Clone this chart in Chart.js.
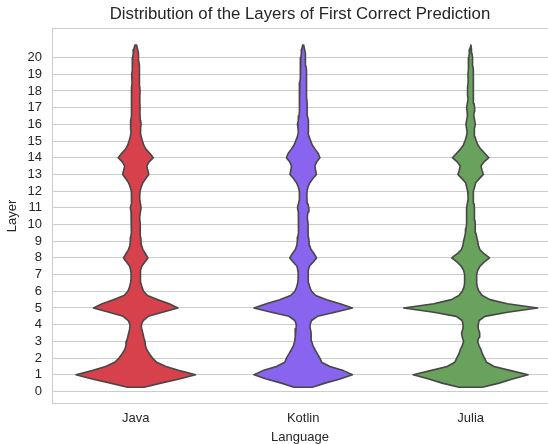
<!DOCTYPE html>
<html>
<head>
<meta charset="utf-8">
<title>Distribution of the Layers of First Correct Prediction</title>
<script src="https://cdn.jsdelivr.net/npm/chart.js@4/dist/chart.umd.min.js"></script>
<style>
  html, body { margin: 0; padding: 0; background: #fff; }
  #wrap { width: 548px; height: 444px; }
</style>
</head>
<body>
<div id="wrap"><canvas id="violins" width="548" height="444"></canvas></div>
<script>
// categories on the x axis
const languages = ['Java', 'Kotlin', 'Julia']
const layerTicks = [0, 1, 2, 3, 4, 5, 6, 7, 8, 9, 10, 11, 12, 13, 14, 15, 16, 17, 18, 19, 20]

const layerGrid = [
	0.25, 0.5, 0.75, 1, 1.25, 1.5, 1.75, 2, 2.25, 2.5, 2.75, 3,
	3.25, 3.5, 3.75, 4, 4.25, 4.5, 4.75, 5, 5.25, 5.5, 5.75, 6,
	6.25, 6.5, 6.75, 7, 7.25, 7.5, 7.75, 8, 8.25, 8.5, 8.75, 9,
	9.25, 9.5, 9.75, 10, 10.25, 10.5, 10.75, 11, 11.25, 11.5, 11.75, 12,
	12.25, 12.5, 12.75, 13, 13.25, 13.5, 13.75, 14, 14.25, 14.5, 14.75, 15,
	15.25, 15.5, 15.75, 16, 16.25, 16.5, 16.75, 17, 17.25, 17.5, 17.75, 18,
	18.25, 18.5, 18.75, 19, 19.25, 19.5, 19.75, 20, 20.25, 20.5, 20.75
]

// half-width of each violin (in category units) at every layerGrid value
const javaWidth = [
	0.05, 0.15, 0.26, 0.357, 0.26, 0.18, 0.125, 0.10, 0.082, 0.066, 0.058, 0.055,
	0.048, 0.042, 0.036, 0.034, 0.045, 0.075, 0.16, 0.252, 0.2, 0.133, 0.07, 0.047,
	0.037, 0.031, 0.028, 0.027, 0.03, 0.036, 0.055, 0.073, 0.058, 0.043, 0.035, 0.032,
	0.03, 0.028, 0.027, 0.026, 0.025, 0.024, 0.028, 0.032, 0.028, 0.024, 0.024, 0.026,
	0.033, 0.043, 0.06, 0.078, 0.072, 0.066, 0.08, 0.105, 0.085, 0.062, 0.048, 0.04,
	0.033, 0.028, 0.029, 0.032, 0.029, 0.026, 0.025, 0.026, 0.025, 0.024, 0.025, 0.026,
	0.024, 0.022, 0.023, 0.024, 0.022, 0.02, 0.019, 0.018, 0.015, 0.011, 0.005
]
const kotlinWidth = [
	0.055, 0.13, 0.22, 0.294, 0.24, 0.16, 0.11, 0.10, 0.085, 0.071, 0.058, 0.051,
	0.048, 0.047, 0.043, 0.041, 0.05, 0.085, 0.19, 0.294, 0.22, 0.14, 0.075, 0.05,
	0.039, 0.033, 0.03, 0.029, 0.032, 0.037, 0.06, 0.08, 0.065, 0.047, 0.038, 0.035,
	0.032, 0.03, 0.029, 0.029, 0.027, 0.025, 0.029, 0.034, 0.028, 0.023, 0.022, 0.023,
	0.029, 0.04, 0.058, 0.079, 0.074, 0.07, 0.08, 0.1, 0.09, 0.072, 0.055, 0.045,
	0.035, 0.029, 0.031, 0.034, 0.029, 0.025, 0.024, 0.024, 0.023, 0.022, 0.022, 0.022,
	0.021, 0.02, 0.019, 0.018, 0.017, 0.016, 0.015, 0.014, 0.011, 0.008, 0.003
]
const juliaWidth = [
	0.07, 0.17, 0.25, 0.343, 0.24, 0.14, 0.095, 0.083, 0.07, 0.062, 0.05, 0.042,
	0.05, 0.054, 0.046, 0.045, 0.051, 0.085, 0.22, 0.40, 0.22, 0.115, 0.07, 0.05,
	0.04, 0.036, 0.036, 0.036, 0.042, 0.056, 0.08, 0.113, 0.08, 0.055, 0.046, 0.042,
	0.036, 0.031, 0.028, 0.027, 0.026, 0.022, 0.022, 0.024, 0.02, 0.015, 0.016, 0.018,
	0.024, 0.03, 0.052, 0.076, 0.068, 0.062, 0.08, 0.109, 0.085, 0.062, 0.044, 0.034,
	0.026, 0.021, 0.024, 0.028, 0.024, 0.019, 0.021, 0.024, 0.02, 0.015, 0.017, 0.02,
	0.018, 0.015, 0.015, 0.016, 0.015, 0.013, 0.012, 0.011, 0.008, 0.005, 0.002
]

const colors = ['#d7414b', '#8964ee', '#68a25c']
const font = "'Liberation Sans', Arial, sans-serif"
const ink = '#262626'
const rule = '#cccccc'

// closed outline: right side going up, left side coming down
function outline(center, half) {
	const right = layerGrid.map((y, i) => ({ x: center + half[i], y }))
	const left = layerGrid.map((y, i) => ({ x: center - half[i], y })).reverse()
	return right.concat(left, [right[0]])
}

// fill the inside of each outline before Chart.js strokes it
const fillShape = {
	id: 'fillShape',
	beforeDatasetDraw(chart, args) {
		const pts = args.meta.data
		const ctx = chart.ctx
		ctx.save()
		ctx.beginPath()
		pts.forEach((p, i) => i ? ctx.lineTo(p.x, p.y) : ctx.moveTo(p.x, p.y))
		ctx.closePath()
		ctx.fillStyle = chart.data.datasets[args.index].backgroundColor
		ctx.fill()
		ctx.restore()
	}
}

const widths = [javaWidth, kotlinWidth, juliaWidth]

new Chart(document.getElementById('violins'), {
	type: 'scatter',
	data: {
		datasets: languages.map((name, i) => ({
			label: name,
			data: outline(i, widths[i]),
			showLine: true,
			backgroundColor: colors[i],
			borderColor: '#474747',
			borderWidth: 1.6,
			borderJoinStyle: 'round',
			pointRadius: 0,
			tension: 0
		}))
	},
	plugins: [fillShape],
	options: {
		responsive: false,
		animation: false,
		devicePixelRatio: 1,
		events: [],
		layout: { padding: 0 },
		plugins: {
			legend: { display: false },
			tooltip: { enabled: false },
			title: {
				display: true,
				fullSize: false,
				text: 'Distribution of the Layers of First Correct Prediction',
				color: ink,
				font: { family: font, size: 16.8, weight: 'normal', lineHeight: 1.2 },
				padding: { top: 4.4, bottom: 3.94 }
			}
		},
		scales: {
			x: {
				type: 'linear',
				min: -0.5,
				max: 2.462,
				afterFit: s => { s.height = 40.5 },
				afterBuildTicks: s => { s.ticks = languages.map((_, i) => ({ value: i })) },
				ticks: {
					color: ink,
					font: { family: font, size: 13 },
					padding: 7,
					callback: v => languages[v]
				},
				grid: { display: false, drawTicks: false },
				border: { color: rule },
				title: {
					display: true,
					text: 'Language',
					color: ink,
					font: { family: font, size: 13, lineHeight: 1 },
					padding: { top: 0, bottom: 0 }
				}
			},
			x2: {
				type: 'linear',
				position: 'top',
				afterFit: s => { s.height = 0 },
				ticks: { display: false },
				grid: { display: false, drawTicks: false },
				border: { color: rule }
			},
			y: {
				min: -0.72,
				max: 21.74,
				afterFit: s => { s.width = 52 },
				afterBuildTicks: s => { s.ticks = layerTicks.map(v => ({ value: v })) },
				ticks: {
					color: ink,
					font: { family: font, size: 13 },
					padding: 10
				},
				grid: { color: rule, drawTicks: false },
				border: { color: rule },
				title: {
					display: true,
					text: 'Layer',
					color: ink,
					font: { family: font, size: 13, lineHeight: 1 },
					padding: { top: 5.7, bottom: 0 }
				}
			}
		}
	}
})
</script>
</body>
</html>
